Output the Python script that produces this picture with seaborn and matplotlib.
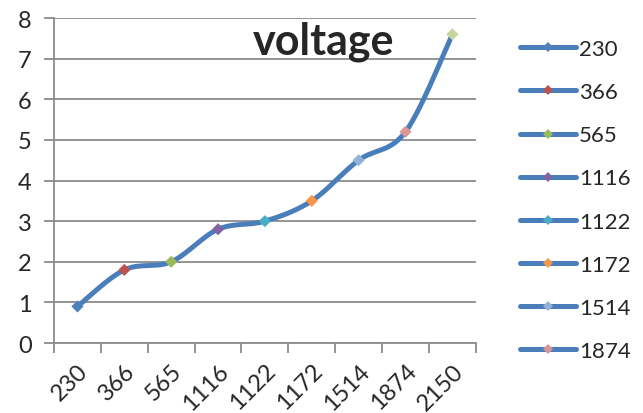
import numpy as np
import pandas as pd
import seaborn as sns
import matplotlib.pyplot as plt
from matplotlib.lines import Line2D

sns.set_style("white")
plt.rcParams["font.family"] = ["Lato", "DejaVu Sans"]

# -----------------------------
categories = ["230", "366", "565", "1116", "1122", "1172", "1514", "1874", "2150"]
voltage = [0.9, 1.8, 2.0, 2.8, 3.0, 3.5, 4.5, 5.2, 7.6]
marker_colors = ["#4F81BD", "#C0504D", "#9BBB59", "#8064A2", "#4BACC6",
                 "#F79646", "#95B3D7", "#D99694", "#C3D69B"]
line_color = "#4A7EBB"
grid_color = "#8C8C8C"

# smooth curve like Excel (Catmull-Rom as cubic Bezier)
pos = np.arange(len(categories), dtype=float)
val = np.array(voltage, dtype=float)
px = np.concatenate([[pos[0]], pos, [pos[-1]]])
py = np.concatenate([[val[0]], val, [val[-1]]])
t = np.linspace(0, 1, 30)
sx, sy = [], []
for i in range(1, len(px) - 2):
    p0 = np.array([px[i], py[i]])
    p3 = np.array([px[i + 1], py[i + 1]])
    c1 = p0 + (p3 - np.array([px[i - 1], py[i - 1]])) / 6
    c2 = p3 - (np.array([px[i + 2], py[i + 2]]) - p0) / 6
    pts = ((1 - t)[:, None] ** 3 * p0 + 3 * ((1 - t) ** 2 * t)[:, None] * c1
           + 3 * ((1 - t) * t ** 2)[:, None] * c2 + (t ** 3)[:, None] * p3)
    sx.extend(pts[:, 0])
    sy.extend(pts[:, 1])
curve = pd.DataFrame({"x": sx, "y": sy})
points = pd.DataFrame({"x": pos, "y": val, "cat": categories})

fig = plt.figure(figsize=(6.43, 4.14), dpi=100)
ax = fig.add_axes([0.084, 0.169, 0.656, 0.785])

sns.lineplot(data=curve, x="x", y="y", ax=ax, color=line_color, lw=3.6,
             sort=False, estimator=None, solid_capstyle="round", zorder=3)
sns.scatterplot(data=points, x="x", y="y", hue="cat", palette=marker_colors,
                marker="D", s=38, linewidth=0, ax=ax, legend=False, zorder=4)

ax.set_xlim(-0.5, len(categories) - 0.5)
ax.set_ylim(0, 8)
ax.set_yticks(range(0, 9))
ax.yaxis.grid(True, color=grid_color, lw=1.3)
ax.set_axisbelow(True)
ax.set_xticks(pos)
ax.set_xticklabels(categories, rotation=45, ha="right", rotation_mode="anchor")
ax.set_xticks(np.arange(-0.5, len(categories)), minor=True)
ax.tick_params(axis="x", which="major", length=0, labelsize=17, pad=12)
ax.tick_params(axis="x", which="minor", length=7, width=1.3, color=grid_color,
               direction="out", bottom=True)
ax.tick_params(axis="y", length=7, width=1.3, color=grid_color, labelsize=17,
               pad=9, left=True)
ax.set_xlabel("")
ax.set_ylabel("")
for s in ["top", "right"]:
    ax.spines[s].set_visible(False)
for s in ["left", "bottom"]:
    ax.spines[s].set_color(grid_color)
    ax.spines[s].set_linewidth(1.3)

ax.text(0.64, 0.93, "voltage", transform=ax.transAxes, ha="center", va="center",
        fontsize=31, fontweight="bold")

handles = [Line2D([0], [0], color=line_color, lw=3.6, marker="D", markersize=5.5,
                  markerfacecolor=c, markeredgewidth=0, solid_capstyle="round")
           for c in marker_colors[:8]]
fig.legend(handles, categories[:8], loc="upper left", bbox_to_anchor=(0.792, 0.93),
           frameon=False, fontsize=16, handlelength=2.5, handletextpad=0.15,
           labelspacing=1.04, borderpad=0)

fig.savefig("out.png", dpi=100)
